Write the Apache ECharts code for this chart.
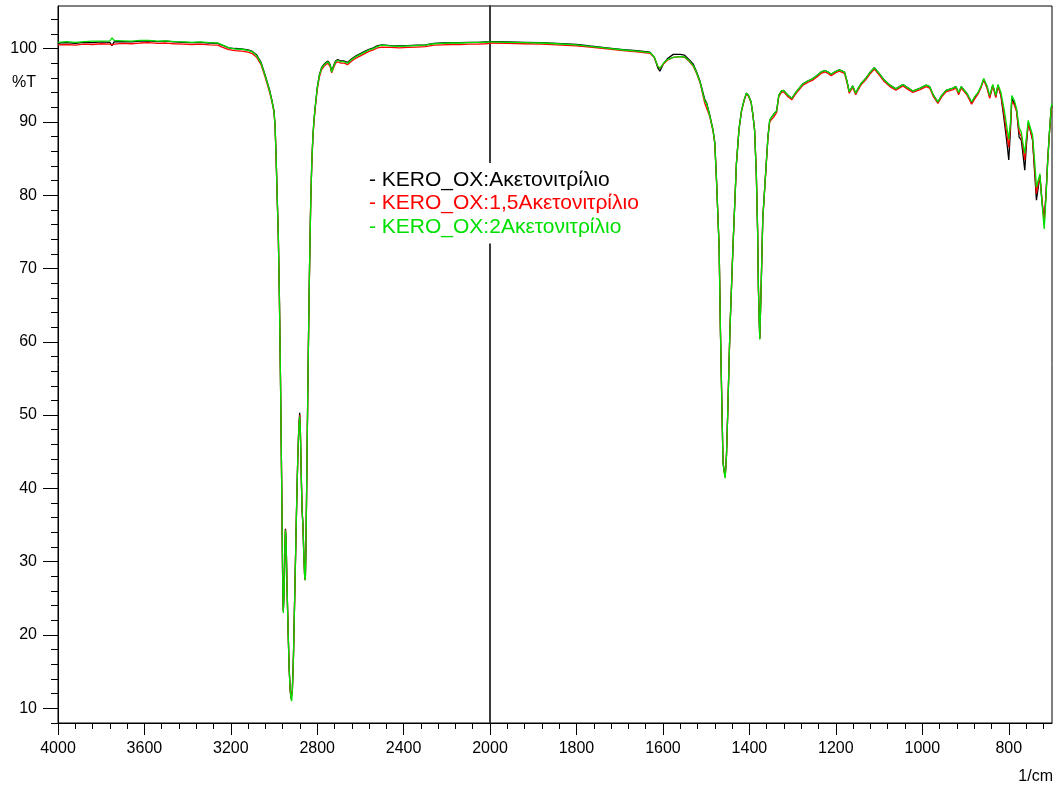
<!DOCTYPE html>
<html>
<head>
<meta charset="utf-8">
<script src="https://cdn.jsdelivr.net/npm/echarts@6.0.0/dist/echarts.min.js"></script>
<style>
  html, body { margin: 0; padding: 0; background: #fff; }
  #main { width: 1058px; height: 787px; }
</style>
</head>
<body>
<div id="main"></div>
<script>
// wavenumbers, 4000-2000 part of the spectrum
var leftWn = [4000, 3960, 3920, 3880, 3840, 3800, 3760, 3750, 3740, 3700,
  3660, 3620, 3580, 3540, 3500, 3460, 3420, 3380, 3340, 3300,
  3260, 3240, 3210, 3180, 3150, 3120, 3100, 3080, 3060, 3040,
  3020, 3010, 3000, 2995, 2990, 2985, 2980, 2975, 2970, 2965,
  2960, 2957, 2953, 2950, 2947, 2944, 2940, 2935, 2930, 2925,
  2921, 2918, 2915, 2910, 2905, 2900, 2895, 2890, 2885, 2881,
  2878, 2874, 2870, 2866, 2862, 2858, 2855, 2852, 2848, 2844,
  2840, 2835, 2830, 2825, 2820, 2815, 2810, 2800, 2790, 2780,
  2770, 2760, 2750, 2740, 2733, 2725, 2715, 2705, 2690, 2675,
  2660, 2640, 2620, 2600, 2580, 2560, 2540, 2520, 2500, 2460,
  2420, 2380, 2340, 2300, 2260, 2220, 2180, 2140, 2100, 2060,
  2020, 2000];

var leftBlack = [100.75, 100.8, 100.7, 100.85, 100.8, 100.9, 100.85, 100.4, 100.9, 100.95,
  100.9, 101.0, 101.05, 100.95, 101.0, 100.9, 100.85, 100.8, 100.85, 100.75,
  100.7, 100.45, 100.1, 100.0, 99.95, 99.8, 99.6, 99.1, 98.1, 96.3,
  94.3, 93.0, 91.5, 89.5, 85.0, 79.5, 74.5, 66.0, 55.0, 42.0,
  28.0, 23.3, 26.0, 31.0, 34.5, 33.0, 27.0, 21.0, 15.5, 12.5,
  11.3, 11.1, 12.5, 17.0, 24.0, 31.0, 38.0, 44.0, 48.5, 50.3,
  48.0, 42.0, 37.0, 35.0, 31.0, 28.0, 27.5, 32.0, 42.0, 52.0,
  61.0, 71.0, 79.0, 84.5, 88.0, 90.2, 91.8, 94.6, 96.4, 97.4,
  97.8, 98.1, 98.3, 97.8, 96.9, 97.6, 98.3, 98.5, 98.3, 98.3,
  98.1, 98.6, 99.0, 99.3, 99.6, 99.9, 100.1, 100.4, 100.5, 100.4,
  100.35, 100.4, 100.45, 100.5, 100.7, 100.75, 100.8, 100.8, 100.85, 100.85,
  100.9, 100.9];

var leftRed = [100.5, 100.55, 100.45, 100.6, 100.55, 100.65, 100.6, 100.5, 100.6, 100.7,
  100.65, 100.75, 100.8, 100.7, 100.75, 100.65, 100.6, 100.55, 100.6, 100.5,
  100.45, 100.2, 99.85, 99.7, 99.65, 99.5, 99.3, 98.8, 97.8, 96.0,
  94.0, 92.8, 91.3, 89.3, 84.8, 79.4, 74.4, 66.0, 55.0, 42.0,
  28.0, 23.3, 26.0, 31.0, 34.4, 33.0, 27.0, 21.0, 15.5, 12.5,
  11.3, 11.1, 12.5, 17.0, 24.0, 31.0, 38.0, 44.0, 48.4, 50.0,
  48.0, 42.0, 37.0, 35.0, 31.0, 28.0, 27.5, 32.0, 42.0, 52.0,
  61.0, 71.0, 79.0, 84.3, 87.8, 90.0, 91.6, 94.4, 96.1, 97.1,
  97.5, 97.8, 98.0, 97.5, 96.7, 97.3, 98.0, 98.2, 98.0, 98.0,
  97.8, 98.3, 98.7, 99.0, 99.3, 99.6, 99.8, 100.1, 100.2, 100.15,
  100.1, 100.15, 100.2, 100.25, 100.45, 100.5, 100.55, 100.55, 100.6, 100.6,
  100.65, 100.7];

var leftGreen = [100.85, 100.95, 100.85, 100.95, 101.0, 101.0, 101.05, 101.45, 101.1, 101.05,
  101.0, 101.1, 101.1, 101.0, 101.05, 100.95, 100.9, 100.85, 100.9, 100.8,
  100.75, 100.5, 100.1, 99.95, 99.9, 99.75, 99.55, 99.0, 98.0, 96.2,
  94.2, 92.9, 91.4, 89.4, 85.0, 79.5, 74.5, 66.0, 55.0, 42.0,
  28.0, 23.0, 26.0, 31.0, 34.3, 33.0, 27.0, 21.0, 15.5, 12.5,
  11.3, 11.0, 12.5, 17.0, 24.0, 31.0, 38.0, 44.0, 48.3, 49.8,
  48.0, 42.0, 37.0, 35.0, 31.0, 28.0, 27.5, 32.0, 42.0, 52.0,
  61.0, 71.0, 79.0, 84.5, 88.0, 90.2, 91.8, 94.6, 96.3, 97.3,
  97.7, 98.0, 98.2, 97.7, 96.8, 97.5, 98.2, 98.4, 98.2, 98.2,
  98.0, 98.5, 98.9, 99.2, 99.5, 99.8, 100.0, 100.3, 100.45, 100.35,
  100.3, 100.35, 100.4, 100.45, 100.65, 100.7, 100.75, 100.75, 100.8, 100.85,
  100.85, 100.9];

// wavenumbers, 2000-700 part (drawn at double scale)
var rightWn = [2000, 1960, 1920, 1880, 1846, 1800, 1769, 1730, 1692, 1660,
  1630, 1620, 1612, 1607, 1600, 1590, 1576, 1560, 1550, 1540,
  1530, 1522, 1514, 1507, 1503, 1499, 1492, 1484, 1480, 1476,
  1470, 1467, 1464, 1461, 1458, 1456, 1453, 1450, 1445, 1438,
  1430, 1424, 1418, 1412, 1407, 1402, 1396, 1392, 1388, 1384,
  1381, 1379, 1376, 1373, 1369, 1366, 1361, 1357, 1353, 1349,
  1343, 1337, 1332, 1326, 1321, 1312, 1302, 1294, 1286, 1276,
  1264, 1253, 1240, 1234, 1225, 1218, 1211, 1200, 1192, 1180,
  1174, 1169, 1161, 1154, 1148, 1142, 1130, 1120, 1111, 1100,
  1088, 1075, 1061, 1045, 1035, 1022, 1005, 991, 983, 974,
  964, 955, 945, 929, 922, 916, 910, 906, 896, 886,
  878, 871, 864, 858, 851, 844, 837, 830, 825, 818,
  811, 805, 800, 796, 793, 787, 782, 776, 771, 767,
  763, 759, 755, 750, 745, 740, 736, 732, 728, 723,
  718, 714, 710, 706, 702, 700];

var rightBlack = [100.95, 100.9, 100.85, 100.8, 100.7, 100.55, 100.35, 100.1, 99.85, 99.7,
  99.5, 98.8, 97.4, 96.9, 97.8, 98.6, 99.2, 99.2, 99.1, 98.5,
  97.9, 96.8, 95.5, 93.9, 93.0, 92.6, 91.0, 88.9, 87.2, 82.0,
  72.9, 61.6, 52.5, 43.5, 42.3, 41.6, 44.5, 50.5, 61.6, 72.9,
  84.3, 89.0, 91.6, 93.0, 93.9, 93.6, 92.7, 91.0, 88.9, 83.0,
  75.2, 67.0, 60.4, 67.0, 76.8, 77.0, 84.3, 88.0, 90.2, 90.6,
  91.1, 91.5, 93.6, 94.2, 94.3, 93.7, 93.2, 93.9, 94.5, 95.2,
  95.6, 95.9, 96.5, 96.8, 97.0, 96.8, 96.5, 96.9, 97.1, 96.8,
  95.5, 94.1, 94.9, 93.9, 94.6, 95.2, 96.0, 96.8, 97.4, 96.6,
  95.7, 95.0, 94.5, 95.1, 94.7, 94.2, 94.6, 95.0, 94.8, 93.6,
  92.7, 93.6, 94.3, 94.6, 94.8, 93.9, 94.8, 94.9, 93.8, 92.6,
  93.4, 93.9, 94.8, 95.8, 94.9, 93.4, 95.0, 93.4, 95.0, 93.5,
  90.4, 87.5, 84.8, 89.0, 93.2, 92.5, 91.6, 87.9, 87.5, 85.5,
  83.4, 87.0, 89.8, 88.8, 87.5, 83.0, 79.3, 81.0, 82.7, 79.0,
  76.6, 80.0, 84.8, 88.5, 91.8, 92.2];

var rightRed = [100.75, 100.7, 100.65, 100.6, 100.5, 100.35, 100.2, 99.95, 99.7, 99.55,
  99.35, 98.8, 97.6, 97.3, 97.8, 98.4, 98.8, 98.9, 98.8, 98.3,
  97.6, 96.6, 95.3, 93.5, 92.5, 92.4, 90.8, 88.7, 87.0, 82.0,
  72.9, 61.6, 52.5, 43.5, 42.3, 41.6, 44.5, 50.5, 61.6, 72.9,
  84.3, 89.0, 91.5, 92.9, 93.8, 93.5, 92.6, 91.0, 88.9, 83.0,
  75.2, 67.0, 60.5, 67.0, 76.8, 77.0, 84.2, 87.9, 90.0, 90.3,
  90.7, 91.3, 93.4, 94.0, 94.1, 93.5, 93.0, 93.7, 94.3, 95.0,
  95.4, 95.7, 96.3, 96.6, 96.8, 96.6, 96.3, 96.7, 96.9, 96.6,
  95.3, 93.9, 94.7, 93.7, 94.4, 95.0, 95.8, 96.6, 97.2, 96.4,
  95.5, 94.8, 94.3, 94.9, 94.5, 94.0, 94.4, 94.8, 94.6, 93.4,
  92.5, 93.4, 94.1, 94.4, 94.6, 93.7, 94.6, 94.7, 93.6, 92.4,
  93.2, 93.8, 94.7, 95.7, 94.7, 93.2, 94.9, 93.3, 94.9, 93.6,
  91.0, 88.5, 86.5, 89.5, 92.8, 92.3, 91.4, 88.6, 88.0, 86.5,
  84.8, 87.5, 89.6, 88.8, 87.6, 83.5, 80.2, 81.5, 82.6, 79.3,
  76.4, 80.0, 84.6, 88.3, 91.6, 92.0];

var rightGreen = [100.9, 100.85, 100.8, 100.75, 100.65, 100.5, 100.3, 100.05, 99.8, 99.65,
  99.45, 98.85, 97.6, 97.3, 97.9, 98.5, 98.8, 98.9, 98.85, 98.35,
  97.7, 96.7, 95.4, 93.7, 92.8, 92.5, 90.9, 88.8, 87.1, 82.0,
  72.9, 61.6, 52.5, 43.5, 42.0, 41.4, 44.5, 50.5, 61.6, 72.9,
  84.3, 89.0, 91.6, 93.0, 93.9, 93.6, 92.7, 91.0, 88.9, 83.0,
  75.2, 67.0, 60.3, 67.0, 76.8, 77.0, 84.3, 88.0, 90.2, 90.6,
  91.1, 91.5, 93.6, 94.2, 94.3, 93.7, 93.2, 93.9, 94.5, 95.2,
  95.6, 95.9, 96.5, 96.8, 97.0, 96.8, 96.5, 96.9, 97.1, 96.8,
  95.5, 94.1, 94.9, 93.9, 94.6, 95.2, 96.0, 96.8, 97.4, 96.6,
  95.7, 95.0, 94.5, 95.1, 94.7, 94.2, 94.6, 95.0, 94.8, 93.6,
  92.7, 93.6, 94.3, 94.6, 94.8, 94.0, 94.8, 94.9, 93.8, 92.7,
  93.5, 94.0, 94.9, 95.9, 95.0, 93.6, 95.1, 93.6, 95.1, 94.0,
  91.8, 89.5, 87.6, 90.0, 93.6, 92.9, 91.8, 89.2, 88.6, 87.0,
  85.7, 88.0, 90.2, 89.2, 88.2, 84.5, 81.1, 82.0, 82.9, 78.8,
  75.4, 79.5, 84.5, 88.5, 92.0, 92.5];

var seriesNames = ['KERO_OX:Ακετονιτρίλιο', 'KERO_OX:1,5Ακετονιτρίλιο', 'KERO_OX:2Ακετονιτρίλιο'];
var seriesColors = ['#000000', '#ff0000', '#00e000'];

// tick values
var yMajorTicks = [10, 20, 30, 40, 50, 60, 70, 80, 90, 100];
var yMinorTicks = [8, 12, 14, 16, 18, 22, 24, 26, 28, 32, 34, 36, 38, 42, 44, 46, 48,
  52, 54, 56, 58, 62, 64, 66, 68, 72, 74, 76, 78, 82, 84, 86, 88, 92, 94, 96, 98, 102, 104];
var xRightMajorTicks = [800, 1000, 1200, 1400, 1600, 1800];
var xRightMinorTicks = [720, 760, 840, 880, 920, 960, 1040, 1080, 1120, 1160, 1240, 1280,
  1320, 1360, 1440, 1480, 1520, 1560, 1640, 1680, 1720, 1760, 1840, 1880, 1920, 1960];

var font = '"Liberation Sans", Arial, sans-serif';
var yMin = 8, yMax = 105.8;

function pairs(wn, vals) {
  return wn.map(function (w, i) { return [w, vals[i]]; });
}
function plain(v) { return String(v); }

var leftSets = [leftBlack, leftRed, leftGreen];
var rightSets = [rightBlack, rightRed, rightGreen];

var series = [];
seriesNames.forEach(function (name, k) {
  [[leftWn, leftSets[k], 0, 0], [rightWn, rightSets[k], 1, 2]].forEach(function (p) {
    series.push({
      name: name,
      type: 'line',
      xAxisIndex: p[2],
      yAxisIndex: p[3],
      data: pairs(p[0], p[1]),
      showSymbol: false,
      symbol: 'none',
      silent: true,
      lineStyle: { color: seriesColors[k], width: 1.3 },
      itemStyle: { color: seriesColors[k] }
    });
  });
});

var labelStyle = { color: '#000', fontSize: 16, fontFamily: font, formatter: plain };

var chart = echarts.init(document.getElementById('main'));
chart.setOption({
  animation: false,
  backgroundColor: '#fff',
  grid: [
    { left: 58, top: 6, width: 432, bottom: 64, show: true, borderColor: '#000', borderWidth: 1, containLabel: false, outerBoundsMode: 'none' },
    { left: 490, top: 6, right: 6, bottom: 64, show: true, borderColor: '#000', borderWidth: 1, containLabel: false, outerBoundsMode: 'none' }
  ],
  xAxis: [
    {
      gridIndex: 0, type: 'value', position: 'bottom', min: 2000, max: 4000, interval: 400, inverse: true,
      axisLine: { show: true, onZero: false, lineStyle: { color: '#000', width: 1 } },
      axisTick: { show: true, length: 12, lineStyle: { color: '#000' } },
      minorTick: { show: true, splitNumber: 5, length: 6, lineStyle: { color: '#000' } },
      axisLabel: Object.assign({ margin: 18 }, labelStyle),
      splitLine: { show: false }
    },
    {
      gridIndex: 1, type: 'value', position: 'bottom', min: 700, max: 2000, inverse: true,
      axisLine: { show: true, onZero: false, lineStyle: { color: '#000', width: 1 } },
      axisTick: { show: true, length: 12, customValues: xRightMajorTicks, lineStyle: { color: '#000' } },
      axisLabel: Object.assign({ margin: 18, customValues: xRightMajorTicks }, labelStyle),
      splitLine: { show: false }
    },
    {
      gridIndex: 1, type: 'value', position: 'bottom', min: 700, max: 2000, inverse: true,
      axisLine: { show: false, onZero: false },
      axisTick: { show: true, length: 6, customValues: xRightMinorTicks, lineStyle: { color: '#000' } },
      axisLabel: { show: false },
      splitLine: { show: false }
    }
  ],
  yAxis: [
    {
      gridIndex: 0, type: 'value', position: 'left', min: yMin, max: yMax,
      axisLine: { show: true, onZero: false, lineStyle: { color: '#000', width: 1 } },
      axisTick: { show: true, length: 15, customValues: yMajorTicks, lineStyle: { color: '#000' } },
      axisLabel: Object.assign({ margin: 21, customValues: yMajorTicks }, labelStyle),
      splitLine: { show: false }
    },
    {
      gridIndex: 0, type: 'value', position: 'left', min: yMin, max: yMax,
      axisLine: { show: false, onZero: false },
      axisTick: { show: true, length: 7, customValues: yMinorTicks, lineStyle: { color: '#000' } },
      axisLabel: { show: false },
      splitLine: { show: false }
    },
    {
      gridIndex: 1, type: 'value', position: 'left', min: yMin, max: yMax,
      axisLine: { show: true, onZero: false, lineStyle: { color: '#3a3a3a', width: 2 } },
      axisTick: { show: false },
      axisLabel: { show: false },
      splitLine: { show: false }
    }
  ],
  legend: {
    orient: 'vertical',
    left: 358,
    top: 163,
    padding: 5,
    z: 10,
    backgroundColor: '#fff',
    itemWidth: 0,
    itemHeight: 0,
    itemGap: 0,
    selectedMode: false,
    formatter: '- {name}',
    textStyle: { fontSize: 21, fontFamily: font, lineHeight: 23.5 },
    data: seriesNames.map(function (n, k) {
      return { name: n, textStyle: { color: seriesColors[k] } };
    })
  },
  graphic: [
    { type: 'text', left: 12, top: 75, style: { text: '%T', font: '16px ' + font, fill: '#000' } },
    { type: 'text', right: 5, top: 769, style: { text: '1/cm', font: '16px ' + font, fill: '#000' } }
  ],
  series: series
});
</script>
</body>
</html>
